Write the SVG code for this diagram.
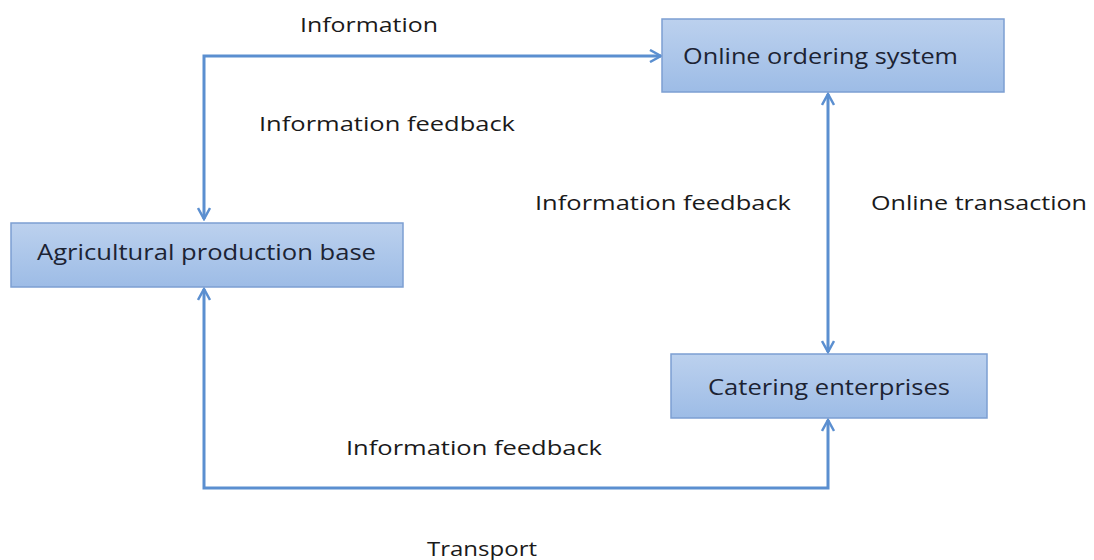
<svg xmlns="http://www.w3.org/2000/svg" width="1094" height="560" viewBox="0 0 1094 560">
<defs>
<linearGradient id="boxg" x1="0" y1="0" x2="0" y2="1">
<stop offset="0" stop-color="#bcd1ee"/>
<stop offset="1" stop-color="#9dbce6"/>
</linearGradient>
<marker id="arr" viewBox="0 0 14 14" refX="12" refY="7" markerWidth="14" markerHeight="14" markerUnits="userSpaceOnUse" orient="auto-start-reverse">
<path d="M1,1 L12,7 L1,13" fill="none" stroke="#5b8fd0" stroke-width="2.5"/>
</marker>
<style>
.box{fill:url(#boxg);stroke:#7c9fd2;stroke-width:1.5}
.bt{font-family:"Open Sans","DejaVu Sans",sans-serif;font-size:21px;fill:#1c2333}
.lb{font-family:"Open Sans","DejaVu Sans",sans-serif;font-size:20px;fill:#1a1a1a}
.cn{fill:none;stroke:#5b8fd0;stroke-width:3;marker-start:url(#arr);marker-end:url(#arr)}
</style>
</defs>
<rect width="1094" height="560" fill="#ffffff"/>
<g id="connectors">
<polyline class="cn" points="204,219 204,56 661,56"/>
<line class="cn" x1="828" y1="94" x2="828" y2="352"/>
<polyline class="cn" points="204,289 204,488 828,488 828,420"/>
</g>
<g id="online">
<rect class="box" x="662" y="19" width="342" height="73"/>
<text class="bt" x="683" y="64" textLength="275" lengthAdjust="spacingAndGlyphs">Online ordering system</text>
</g>
<g id="agri">
<rect class="box" x="11" y="223" width="392" height="64"/>
<text class="bt" x="37" y="260" textLength="339" lengthAdjust="spacingAndGlyphs">Agricultural production base</text>
</g>
<g id="catering">
<rect class="box" x="671" y="354" width="316" height="64"/>
<text class="bt" x="708" y="395" textLength="242" lengthAdjust="spacingAndGlyphs">Catering enterprises</text>
</g>
<g id="labels">
<text class="lb" x="300" y="32" textLength="138" lengthAdjust="spacingAndGlyphs">Information</text>
<text class="lb" x="259" y="131" textLength="256" lengthAdjust="spacingAndGlyphs">Information feedback</text>
<text class="lb" x="535" y="210" textLength="256" lengthAdjust="spacingAndGlyphs">Information feedback</text>
<text class="lb" x="871" y="210" textLength="216" lengthAdjust="spacingAndGlyphs">Online transaction</text>
<text class="lb" x="346" y="455" textLength="256" lengthAdjust="spacingAndGlyphs">Information feedback</text>
<text class="lb" x="427" y="556" textLength="110" lengthAdjust="spacingAndGlyphs">Transport</text>
</g>
</svg>
